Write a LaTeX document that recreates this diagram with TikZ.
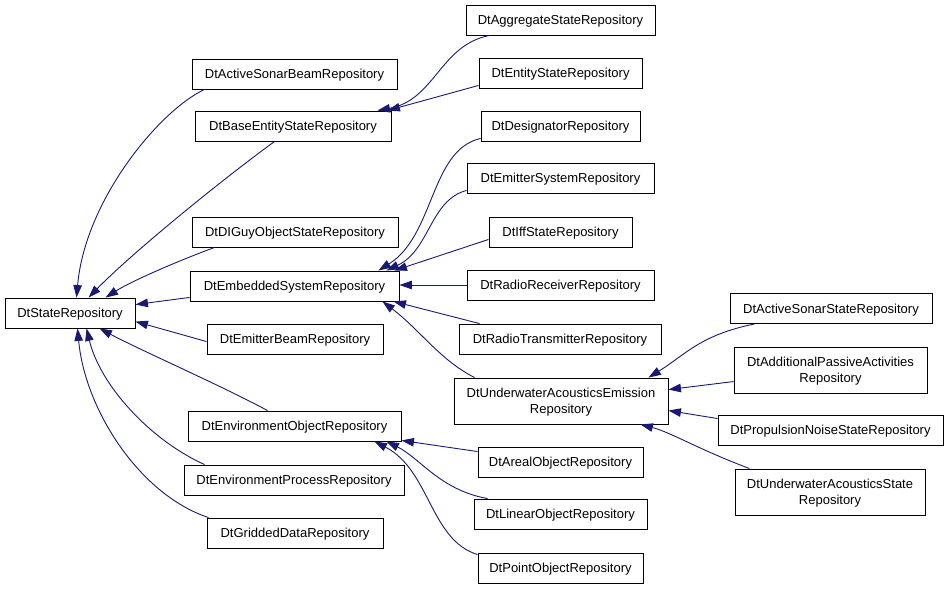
\documentclass[tikz,border=0pt]{standalone}
\usepackage{fontspec}
\setmainfont{Liberation Sans}
\usetikzlibrary{arrows.meta,calc}
\definecolor{edgecol}{RGB}{25,25,112}
\begin{document}
\begin{tikzpicture}[x=1pt,y=-1pt,
  cls/.style={draw=black, line width=0.9pt, fill=white, inner sep=0pt, minimum height=30pt, align=center, text depth=0pt, font=\fontsize{13}{15}\selectfont},
  tall/.style={minimum height=46pt, font=\fontsize{13}{16}\selectfont},
  edge/.style={draw=edgecol, line width=0.9pt, -{Triangle[length=12.5pt,width=8.5pt]}}]
\useasboundingbox (0,0) rectangle (949,589);
% nodes
\node[cls, minimum width=130pt] (S) at (70,313) {DtStateRepository};
\node[cls, minimum width=205pt] (asb) at (294.5,74) {DtActiveSonarBeamRepository};
\node[cls, minimum width=196pt] (bes) at (293,126) {DtBaseEntityStateRepository};
\node[cls, minimum width=206pt] (dig) at (295,232) {DtDIGuyObjectStateRepository};
\node[cls, minimum width=209pt] (ems) at (294.5,286) {DtEmbeddedSystemRepository};
\node[cls, minimum width=176pt] (emb) at (295,339) {DtEmitterBeamRepository};
\node[cls, minimum width=213pt] (eor) at (294.5,426) {DtEnvironmentObjectRepository};
\node[cls, minimum width=220pt] (epr) at (294,480) {DtEnvironmentProcessRepository};
\node[cls, minimum width=176pt] (gdr) at (295,533) {DtGriddedDataRepository};
\node[cls, minimum width=189pt] (agg) at (560.5,20) {DtAggregateStateRepository};
\node[cls, minimum width=163pt] (ent) at (560.5,73) {DtEntityStateRepository};
\node[cls, minimum width=159pt] (des) at (560.5,126) {DtDesignatorRepository};
\node[cls, minimum width=187pt] (esr) at (560.5,178) {DtEmitterSystemRepository};
\node[cls, minimum width=143pt] (iff) at (560.5,232) {DtIffStateRepository};
\node[cls, minimum width=187pt] (rrr) at (560.5,285) {DtRadioReceiverRepository};
\node[cls, minimum width=202pt] (rtr) at (560,339) {DtRadioTransmitterRepository};
\node[cls, tall, minimum width=214pt] (uae) at (561,401) {DtUnderwaterAcousticsEmission\\Repository};
\node[cls, minimum width=165pt] (are) at (560.5,462) {DtArealObjectRepository};
\node[cls, minimum width=173pt] (lin) at (560.5,514) {DtLinearObjectRepository};
\node[cls, minimum width=165pt] (pnt) at (560.5,568) {DtPointObjectRepository};
\node[cls, minimum width=202pt] (ass) at (831,308.5) {DtActiveSonarStateRepository};
\node[cls, tall, minimum width=193pt] (apa) at (830.5,370) {DtAdditionalPassiveActivities\\Repository};
\node[cls, minimum width=225pt] (pns) at (830.5,430) {DtPropulsionNoiseStateRepository};
\node[cls, tall, minimum width=190pt] (uas) at (830,492) {DtUnderwaterAcousticsState\\Repository};
% edges to DtStateRepository
\draw[edge] ($(asb.south west)+(13,0)$) .. controls (160,110) and (85,200) .. ($(S.north west)+(72,0)$);
\draw[edge] ($(bes.south west)+(80,0)$) .. controls (215,185) and (130,255) .. ($(S.north west)+(84,0)$);
\draw[edge] ($(dig.south west)+(23,0)$) .. controls (175,262) and (130,282) .. ($(S.north west)+(101,0)$);
\draw[edge] ($(ems.south west)+(0,-4)$) -- ($(S.north east)+(0,7)$);
\draw[edge] ($(emb.north west)+(0,18)$) -- ($(S.north east)+(0,24)$);
\draw[edge] ($(eor.north west)+(80,0)$) .. controls (220,385) and (140,350) .. ($(S.south west)+(95,0)$);
\draw[edge] ($(epr.north west)+(21,0)$) .. controls (150,440) and (100,385) .. ($(S.south west)+(82,0)$);
\draw[edge] ($(gdr.north west)+(2,0)$) .. controls (140,495) and (85,410) .. ($(S.south west)+(73,0)$);
% edges to DtBaseEntityStateRepository
\draw[edge] ($(agg.south west)+(24,0)$) .. controls (440,45) and (435,100) .. ($(bes.north east)+(-14,0)$);
\draw[edge] ($(ent.south west)+(0,-3)$) -- ($(bes.north east)+(-4,0)$);
% edges to DtEmbeddedSystemRepository
\draw[edge] ($(des.south west)+(0,-3)$) .. controls (430,150) and (435,235) .. ($(ems.north east)+(-21,0)$);
\draw[edge] ($(esr.south west)+(0,-3)$) .. controls (430,200) and (430,250) .. ($(ems.north east)+(-13,0)$);
\draw[edge] ($(iff.south west)+(0,-8)$) -- ($(ems.north east)+(-5,0)$);
\draw[edge] (rrr.west) -- (rrr.west -| ems.east);
\draw[edge] ($(rtr.north west)+(21,0)$) -- ($(ems.south east)+(-6,0)$);
\draw[edge] ($(uae.north west)+(21,0)$) .. controls (440,360) and (420,330) .. ($(ems.south east)+(-17,0)$);
% edges to DtUnderwaterAcousticsEmissionRepository
\draw[edge] ($(ass.south west)+(25,0)$) .. controls (700,335) and (685,355) .. ($(uae.north east)+(-20,0)$);
\draw[edge] ($(apa.north west)+(0,35)$) -- ($(uae.north east)+(0,12)$);
\draw[edge] ($(pns.north west)+(0,4)$) -- ($(uae.north east)+(0,33)$);
\draw[edge] ($(uas.north west)+(15,0)$) .. controls (700,450) and (670,432) .. ($(uae.south east)+(-28,0)$);
% edges to DtEnvironmentObjectRepository
\draw[edge] ($(are.north west)+(0,5)$) -- ($(eor.south east)+(0,-1)$);
\draw[edge] ($(lin.north west)+(14,0)$) .. controls (440,490) and (420,458) .. ($(eor.south east)+(-15,0)$);
\draw[edge] ($(pnt.north west)+(0,2)$) .. controls (430,540) and (430,470) .. ($(eor.south east)+(-27,0)$);
\end{tikzpicture}
\end{document}
